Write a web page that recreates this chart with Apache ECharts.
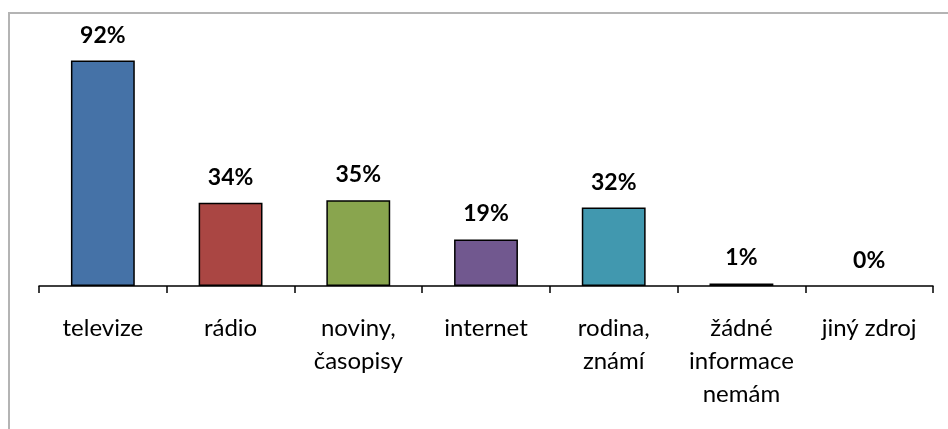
<!DOCTYPE html>
<html>
<head>
<meta charset="utf-8">
<script src="https://cdn.jsdelivr.net/npm/echarts@6/dist/echarts.min.js"></script>
<style>
html, body { margin: 0; padding: 0; background: #fff; }
#chart { width: 948px; height: 429px; }
</style>
</head>
<body>
<div id="chart"></div>
<script>
// Zdroje informací – podíl respondentů
const categories = ['televize', 'rádio', 'noviny,\nčasopisy', 'internet', 'rodina,\nznámí', 'žádné\ninformace\nnemám', 'jiný zdroj'];
const values = [92, 34, 35, 19, 32, 1, 0];
const barColors = ['#4572A7', '#AA4643', '#89A54E', '#71588F', '#4198AF', '#DB843D', '#93A9CF'];

const chart = echarts.init(document.getElementById('chart'));
chart.setOption({
  animation: false,
  graphic: [{
    type: 'rect',
    shape: { x: 9, y: 13, width: 960, height: 440 },
    style: { fill: 'none', stroke: '#b4b4b4', lineWidth: 2 },
    silent: true
  }],
  grid: { left: 39, right: 15, top: 41, bottom: 143 },
  xAxis: {
    type: 'category',
    data: categories,
    axisLine: { lineStyle: { color: '#000', width: 1.5 } },
    axisTick: { show: true, length: 7, lineStyle: { color: '#000', width: 1.5 } },
    axisLabel: {
      color: '#000',
      fontFamily: 'Lato',
      fontSize: 24,
      lineHeight: 33,
      margin: 26,
      interval: 0
    }
  },
  yAxis: {
    type: 'value',
    min: 0,
    max: 100,
    show: false,
    splitLine: { show: false }
  },
  series: [{
    type: 'bar',
    barWidth: '50%',
    data: values.map((v, i) => ({
      value: v,
      itemStyle: { color: barColors[i], borderColor: '#000', borderWidth: v > 0 ? 1.5 : 0 }
    })),
    label: {
      show: true,
      position: 'top',
      distance: 14,
      formatter: p => p.value + '%',
      color: '#000',
      fontFamily: 'Lato',
      fontWeight: 'bold',
      fontSize: 23
    }
  }]
});
</script>
</body>
</html>
